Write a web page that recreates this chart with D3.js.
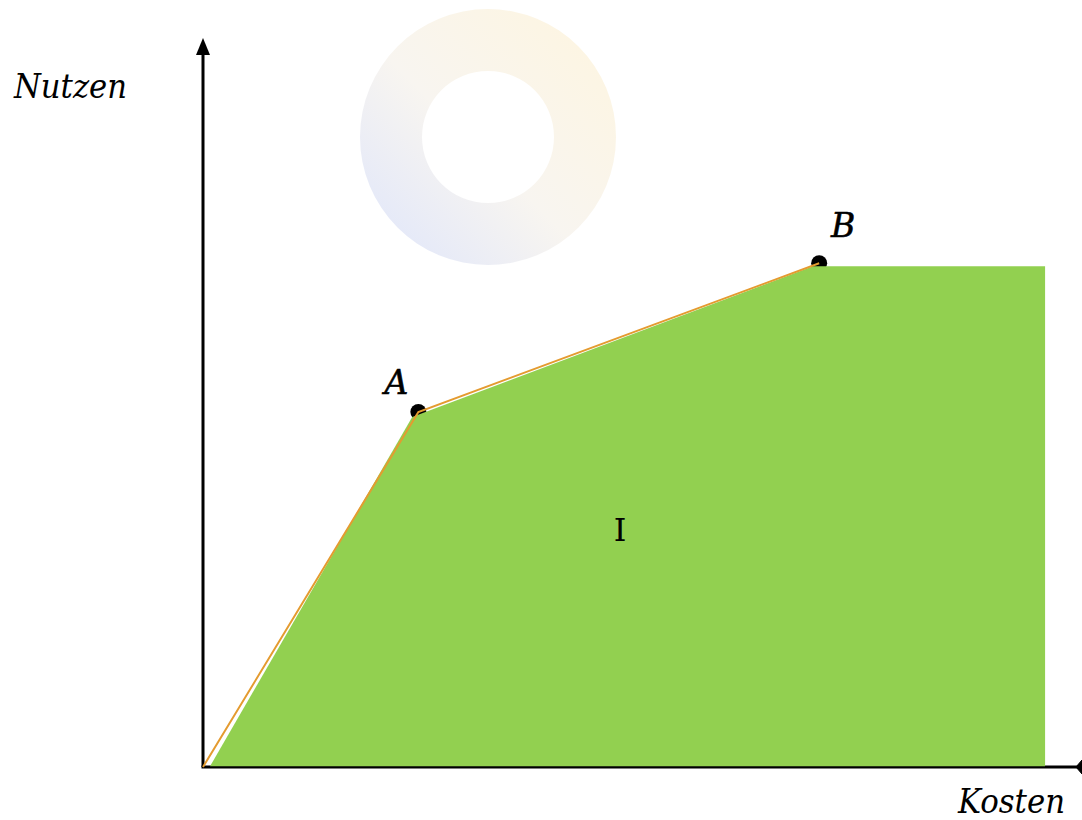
<!DOCTYPE html>
<html lang="de">
<head>
<meta charset="UTF-8">
<title>Nutzen / Kosten</title>
<style>
  body { margin: 0; background: #fff; }
  text { font-family: "DejaVu Serif", "Liberation Serif", serif; }
</style>
</head>
<body>
<script src="https://d3js.org/d3.v7.min.js"></script>
<script>
    // frontier points O, A, B (Kosten, Nutzen)
    var frontKosten = [0, 24.5, 70.1];
    var frontNutzen = [0, 48.7, 69.1];
    var pointLabels = ["", "A", "B"];
    // green area I
    var areaKosten = [0.8, 23.8, 69.4, 95.8, 95.8];
    var areaNutzen = [0.1, 48.0, 68.7, 68.7, 0.1];
    var areaLabel = "I";

    const W = 1082, H = 820;
    const svg = d3.select("body").append("svg")
        .attr("width", W).attr("height", H);

    var x = d3.scaleLinear().domain([0, 100]).range([203, 1082]);
    var y = d3.scaleLinear().domain([0, 100]).range([767, 38]);

    // decorative ring
    var defs = svg.append("defs");
    var grad = defs.append("linearGradient").attr("id", "ring")
        .attr("x1", "0.1").attr("y1", "0.9").attr("x2", "0.9").attr("y2", "0.1");
    grad.append("stop").attr("offset", "0").attr("stop-color", "#e3e8f9");
    grad.append("stop").attr("offset", "0.45").attr("stop-color", "#f8f5f0");
    grad.append("stop").attr("offset", "1").attr("stop-color", "#fdf5e2");
    svg.append("path")
        .attr("transform", "translate(488,137)")
        .attr("fill", "url(#ring)")
        .attr("d", d3.arc().innerRadius(66).outerRadius(128).startAngle(0).endAngle(2 * Math.PI)());

    // axes with arrows
    svg.append("line").attr("x1", x(0)).attr("y1", y(0)).attr("x2", x(0)).attr("y2", 52)
        .attr("stroke", "#000").attr("stroke-width", 3);
    svg.append("path").attr("d", "M" + x(0) + ",38 L" + (x(0) - 7) + ",55 L" + (x(0) + 7) + ",55 Z")
        .attr("fill", "#000");
    svg.append("line").attr("x1", x(0) - 1.5).attr("y1", y(0)).attr("x2", 1080).attr("y2", y(0))
        .attr("stroke", "#000").attr("stroke-width", 3);
    svg.append("path").attr("d", "M1082," + (y(0) - 7) + " L1082," + (y(0) + 7) + " L1076," + y(0) + " Z")
        .attr("fill", "#000").attr("stroke", "#000").attr("stroke-width", 1);

    var pts = frontKosten.map(function (k, i) { return {k: k, n: frontNutzen[i], label: pointLabels[i]}; });

    // black markers
    svg.selectAll("circle.pt").data(pts.slice(1)).enter().append("circle")
        .attr("class", "pt")
        .attr("cx", function (d) { return x(d.k); })
        .attr("cy", function (d) { return y(d.n); })
        .attr("r", 8).attr("fill", "#000");

    // green area
    var areaPts = areaKosten.map(function (k, i) { return [x(k), y(areaNutzen[i])]; });
    svg.append("path")
        .attr("d", d3.line()(areaPts) + "Z")
        .attr("fill", "#92d050");

    // orange frontier line
    svg.append("path").datum(pts)
        .attr("fill", "none").attr("stroke", "#e49b30").attr("stroke-width", 2)
        .attr("d", d3.line().x(function (d) { return x(d.k); }).y(function (d) { return y(d.n); }));

    // point labels
    svg.selectAll("text.pl").data(pts.slice(1)).enter().append("text")
        .attr("class", "pl")
        .attr("x", function (d, i) { return x(d.k) + (i === 0 ? -22 : 24); })
        .attr("y", function (d, i) { return y(d.n) + (i === 0 ? -18 : -26); })
        .attr("text-anchor", "middle")
        .attr("font-size", 33).attr("font-style", "italic")
        .attr("stroke", "#000").attr("stroke-width", 0.6)
        .text(function (d) { return d.label; });

    svg.append("text").attr("x", 620).attr("y", 541).attr("text-anchor", "middle")
        .attr("font-size", 32).text(areaLabel);

    // axis titles
    svg.append("text").attr("x", 14).attr("y", 98)
        .attr("font-size", 34).attr("font-style", "italic")
        .attr("textLength", 113).attr("lengthAdjust", "spacingAndGlyphs")
        .text("Nutzen");
    svg.append("text").attr("x", 958).attr("y", 813)
        .attr("font-size", 34).attr("font-style", "italic")
        .attr("textLength", 107).attr("lengthAdjust", "spacingAndGlyphs")
        .text("Kosten");
</script>
</body>
</html>
